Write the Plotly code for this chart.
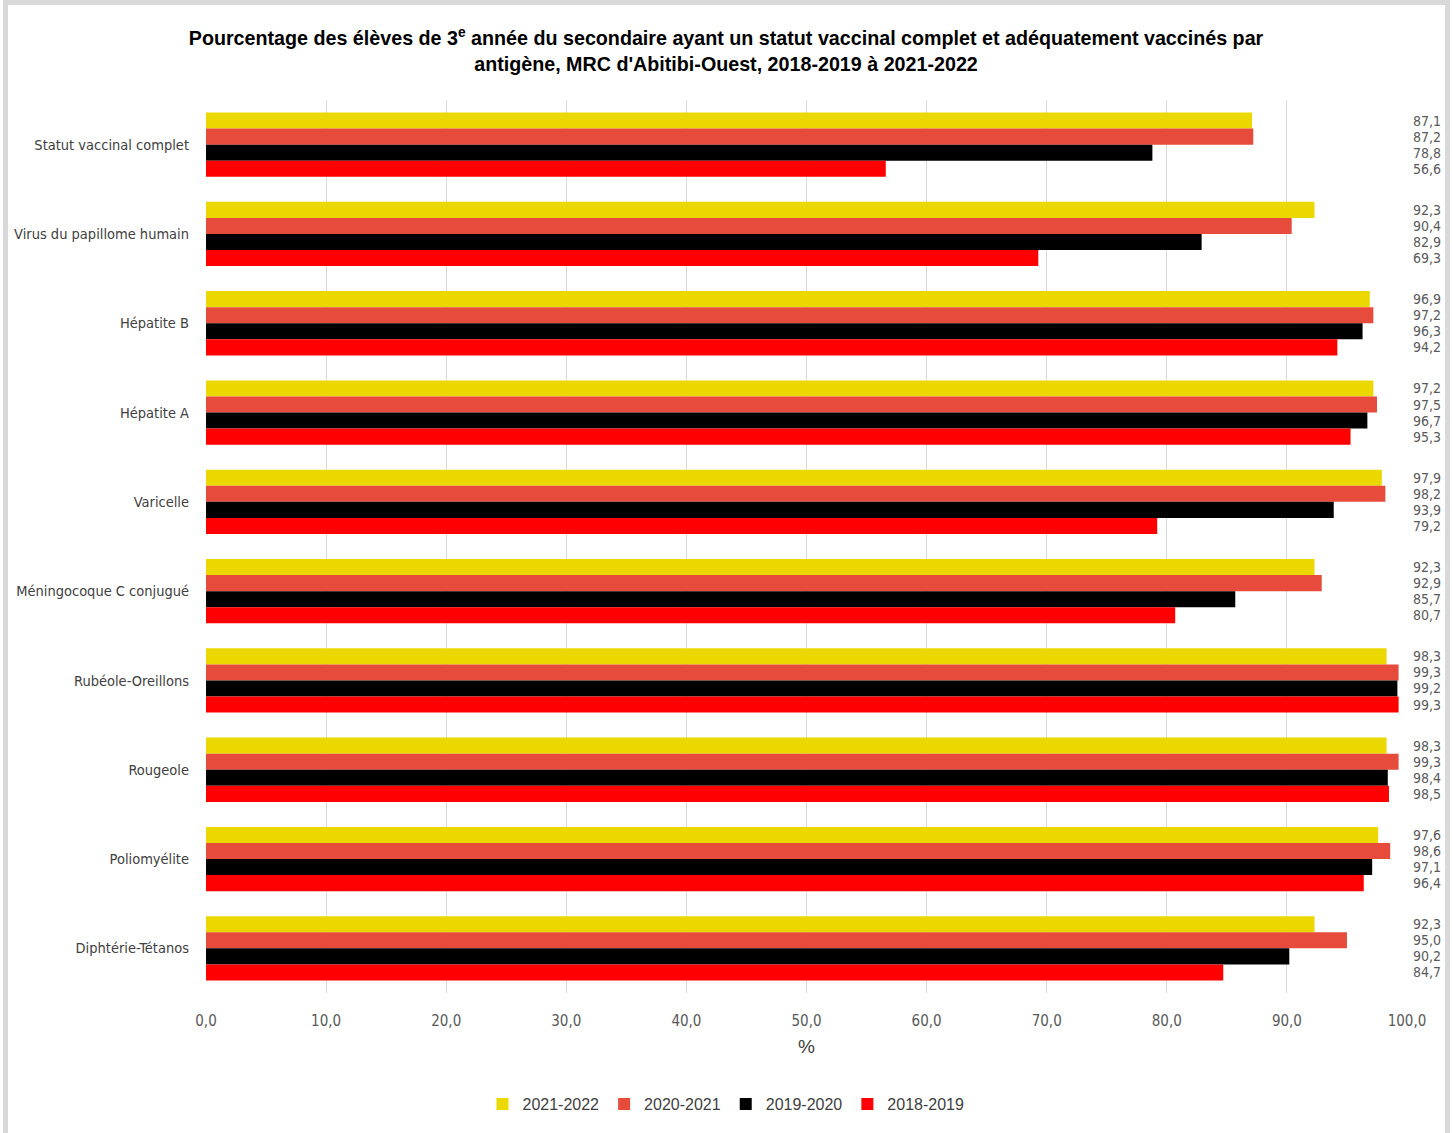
import plotly.graph_objects as go

categories = [
    "Statut vaccinal complet",
    "Virus du papillome humain",
    "Hépatite B",
    "Hépatite A",
    "Varicelle",
    "Méningocoque C conjugué",
    "Rubéole-Oreillons",
    "Rougeole",
    "Poliomyélite",
    "Diphtérie-Tétanos",
]
series_names = ["2021-2022", "2020-2021", "2019-2020", "2018-2019"]
v_2021_2022 = [87.1, 92.3, 96.9, 97.2, 97.9, 92.3, 98.3, 98.3, 97.6, 92.3]
v_2020_2021 = [87.2, 90.4, 97.2, 97.5, 98.2, 92.9, 99.3, 99.3, 98.6, 95.0]
v_2019_2020 = [78.8, 82.9, 96.3, 96.7, 93.9, 85.7, 99.2, 98.4, 97.1, 90.2]
v_2018_2019 = [56.6, 69.3, 94.2, 95.3, 79.2, 80.7, 99.3, 98.5, 96.4, 84.7]
x_ticks = [0, 10, 20, 30, 40, 50, 60, 70, 80, 90, 100]

series_values = [v_2021_2022, v_2020_2021, v_2019_2020, v_2018_2019]
colors = ["#EBD800", "#E64B3B", "#000000", "#FF0000"]

W, H = 1452, 1133
ML, MR, MT, MB = 206, 45, 100, 140
PW, PH = W - ML - MR, H - MT - MB
BARGAP = 0.28

NARROW = "Liberation Sans Narrow, Arial Narrow, DejaVu Sans Condensed, sans-serif"

fig = go.Figure()
for name, vals, col in zip(series_names, series_values, colors):
    fig.add_trace(go.Bar(
        y=categories, x=vals, name=name, orientation="h",
        marker=dict(color=col, line=dict(width=0)),
        hoverinfo="x+y",
    ))

# value labels column on the right side
group_w = 1 - BARGAP
bar_w = group_w / len(series_names)
annotations = []
for i, cat in enumerate(categories):
    for k, vals in enumerate(series_values):
        yy = i - group_w / 2 + (k + 0.5) * bar_w
        annotations.append(dict(
            x=1.0, xref="paper", y=yy, yref="y",
            xshift=4, xanchor="left", yanchor="middle",
            text=f"{vals[i]:.1f}".replace(".", ","),
            showarrow=False,
            font=dict(family=NARROW, size=14, color="#595959"),
        ))

def px_x(p):
    return (p - ML) / PW

def px_y(p):
    return (H - MB - p) / PH

fig.update_layout(
    width=W, height=H,
    margin=dict(l=ML, r=MR, t=MT, b=MB, autoexpand=False),
    paper_bgcolor="white",
    plot_bgcolor="white",
    separators=", ",
    barmode="group",
    bargap=BARGAP,
    bargroupgap=0,
    title=dict(
        text="Pourcentage des élèves de 3<sup>e</sup> année du secondaire ayant un statut vaccinal complet et adéquatement vaccinés par<br>antigène, MRC d'Abitibi-Ouest, 2018-2019 à 2021-2022",
        x=0.5, xref="container", xanchor="center",
        y=1 - 45 / H, yref="container", yanchor="middle",
        font=dict(family="Liberation Sans, Arial, sans-serif", size=19.7, color="#000000", weight="bold"),
    ),
    xaxis=dict(
        range=[0, 100],
        tickvals=x_ticks,
        tickformat=".1f",
        showgrid=True, gridcolor="#D9D9D9", gridwidth=1,
        zeroline=False, showline=False,
        ticks="", ticklabelstandoff=17,
        tickfont=dict(family=NARROW, size=15, color="#595959"),
        title=dict(text="%", font=dict(family="Liberation Sans, Arial, sans-serif", size=19, color="#404040"), standoff=10),
        fixedrange=True,
    ),
    yaxis=dict(
        autorange="reversed",
        showgrid=False, zeroline=False, showline=False,
        ticks="", ticklabelstandoff=16,
        tickfont=dict(family=NARROW, size=14.5, color="#404040"),
        fixedrange=True,
    ),
    legend=dict(
        orientation="h",
        x=0.5, xref="container", xanchor="center",
        y=1 - 1104 / H, yref="container", yanchor="middle",
        font=dict(family="Liberation Sans, Arial, sans-serif", size=16, color="#404040"),
        itemwidth=30,
        traceorder="normal",
    ),
    annotations=annotations,
    shapes=[dict(
        type="rect", xref="paper", yref="paper",
        x0=px_x(5.5), x1=px_x(1447.5), y0=px_y(1145), y1=px_y(2.5),
        line=dict(color="#D9D9D9", width=5), fillcolor="rgba(0,0,0,0)",
        layer="below",
    )],
    showlegend=True,
)

fig.write_html(
    "out.html",
    config={"displayModeBar": False},
    post_script="document.body.style.margin='0';document.body.style.overflow='hidden';",
)
